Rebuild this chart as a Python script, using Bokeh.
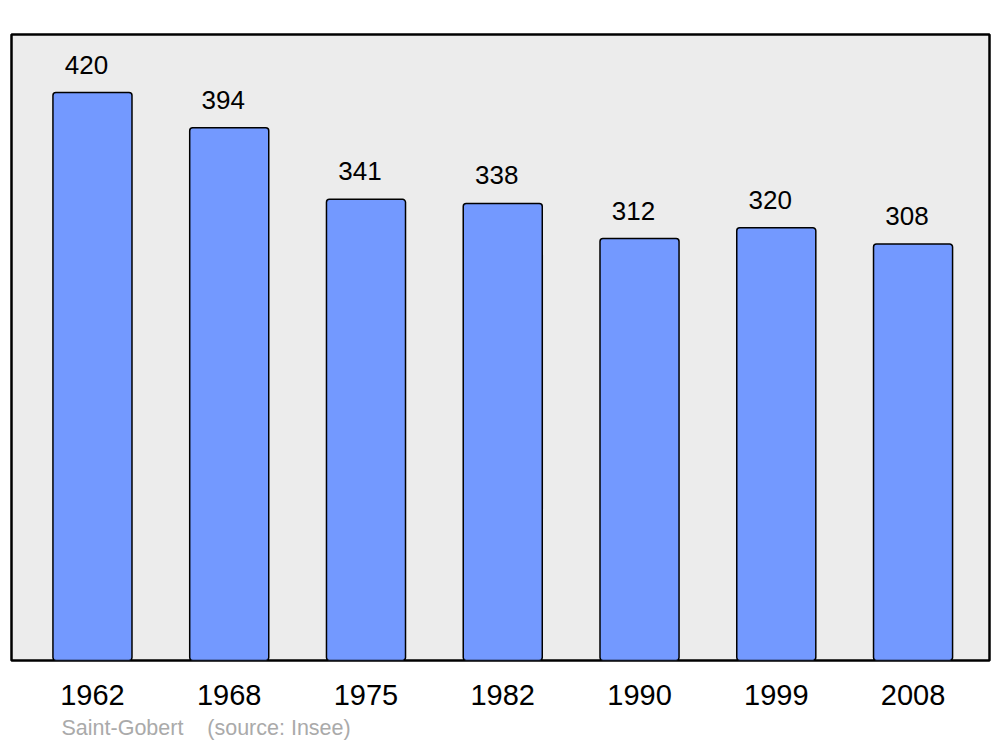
from bokeh.plotting import figure
from bokeh.models import Range1d, FixedTicker, Title, ColumnDataSource
from bokeh.core.properties import value
from bokeh.embed import file_html
from bokeh.resources import INLINE

years = ["1962", "1968", "1975", "1982", "1990", "1999", "2008"]
population = [420, 394, 341, 338, 312, 320, 308]
positions = list(range(len(years)))
source_text = "Saint-Gobert\u00a0\u00a0\u00a0\u00a0(source: Insee)"

src = ColumnDataSource(dict(x=positions, y=population, lab=[str(v) for v in population]))

p = figure(width=1000, height=747, output_backend="svg", toolbar_location=None,
           x_range=Range1d(-0.592, 6.559), y_range=Range1d(0, 462.9),
           y_axis_location=None, min_border_left=11, min_border_right=11,
           min_border_top=34, min_border_bottom=87)
p.background_fill_color = "#ececec"
p.border_fill_color = "white"
p.outline_line_color = "black"
p.outline_line_width = 2.5
p.xgrid.visible = False
p.ygrid.visible = False

p.vbar(x="x", top="y", bottom=0, width=0.578, source=src,
       fill_color="#7399ff", line_color="black", line_width=1.5, border_radius=3)

p.text(x="x", y="y", text="lab", source=src, x_offset=-6, y_offset=-28,
       text_align="center", text_baseline="middle",
       text_font=value("Liberation Sans"), text_font_size="26px", text_color="black")

ax = p.xaxis[0]
ax.ticker = FixedTicker(ticks=positions)
ax.major_label_overrides = {i: y for i, y in enumerate(years)}
ax.axis_line_color = None
ax.major_tick_line_color = None
ax.minor_tick_line_color = None
ax.major_label_standoff = 18
ax.major_label_text_font = "Liberation Sans"
ax.major_label_text_font_size = "29px"
ax.major_label_text_color = "black"

t = Title(text=source_text, align="left", offset=50, standoff=13,
          text_font="Liberation Sans", text_font_size="21.5px",
          text_font_style="normal", text_color="#aaaaaa")
p.add_layout(t, "below")

open("out.html", "w").write(file_html(p, INLINE))
